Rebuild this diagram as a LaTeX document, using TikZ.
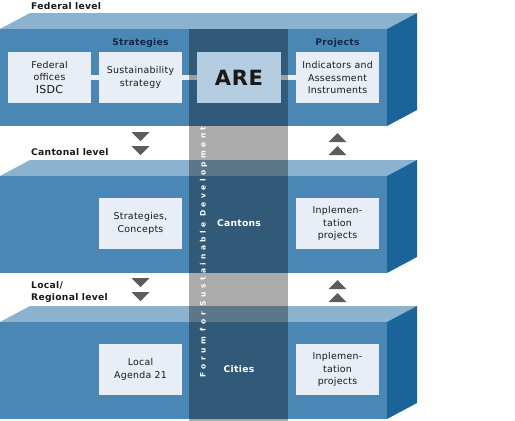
\documentclass[tikz,border=0pt]{standalone}
\usepackage{fontspec}
\setmainfont{DejaVu Sans}
\newfontfamily\spaced{DejaVu Sans}[LetterSpace=3]
\newfontfamily\wide{DejaVu Sans}[LetterSpace=45]
\usetikzlibrary{positioning}

\definecolor{facefront}{HTML}{4A87B4}
\definecolor{facetop}{HTML}{8BB2CF}
\definecolor{faceside}{HTML}{1B6499}
\definecolor{boxlight}{HTML}{E8EEF5}
\definecolor{arelight}{HTML}{B5CDE1}
\definecolor{navy}{HTML}{14284A}
\definecolor{arrowgray}{HTML}{5C5C5C}

\pgfdeclarelayer{bg}
\pgfdeclarelayer{shade}
\pgfsetlayers{bg,shade,main}

\begin{document}
\begin{tikzpicture}[
  x=1pt, y=-1pt,
  inner/.style={fill=boxlight, minimum width=83pt, minimum height=51pt, inner sep=1pt, outer sep=0pt, align=center, text=black!90, font=\spaced\fontsize{9.4}{12.5}\selectfont},
  head/.style={text=navy, font=\spaced\bfseries\fontsize{9.2}{10}\selectfont},
  level/.style={anchor=west, align=left, inner sep=0pt, text=black!90, font=\spaced\bfseries\fontsize{9.2}{12}\selectfont},
  city/.style={text=white, font=\spaced\bfseries\fontsize{9.2}{10}\selectfont},
  bar/.style={line width=5pt, draw=boxlight},
  tri/.style={fill=arrowgray},
]
  \useasboundingbox (0,0) rectangle (515,421);

  % federal level
  \node[inner] (fed) at (49.5,77.5) {Federal\\offices\\{\fontsize{11}{12.5}\selectfont ISDC}};
  \node[inner, right=8pt of fed] (sus) {Sustainability\\strategy};
  \node[inner, fill=arelight, minimum width=84pt, right=15pt of sus] (are) {\fontsize{21}{24}\selectfont\bfseries ARE};
  \node[inner, right=15pt of are] (ind) {Indicators and\\Assessment\\Instruments};

  % cantonal and local level
  \node[inner, below=95pt of sus] (strat) {Strategies,\\Concepts};
  \node[inner, below=95pt of ind] (implcant) {Inplemen-\\tation\\projects};
  \node[inner, below=95pt of strat] (agenda) {Local\\Agenda 21};
  \node[inner, below=95pt of implcant] (impllocal) {Inplemen-\\tation\\projects};

  \node[city] (cantons) at (are |- strat) {Cantons};
  \node[city] (cities) at (are |- agenda) {Cities};

  \node[head] (strathead) at (140.5,43) {Strategies};
  \node[head] (projhead) at (337.5,43) {Projects};

  \node[level] (federal) at (31,6) {Federal level};
  \node[level] (cantonal) at (31,152) {Cantonal level};
  \node[level] (local) at (31,292) {Local/\\Regional level};

  \node[rotate=90, text=white, font=\wide\bfseries\fontsize{7.5}{8}\selectfont] (forum) at (203.5,252) {Forum for Sustainable Development};

  \begin{pgfonlayer}{bg}
    \foreach \y in {29,176,322} {
      \fill[facetop] (0,\y) -- (30,\y-16) -- (417,\y-16) -- (387,\y) -- cycle;
      \fill[facefront] (0,\y) rectangle (387,\y+97);
      \fill[faceside] (387,\y) -- (417,\y-16) -- (417,\y+81) -- (387,\y+97) -- cycle;
    }
    \draw[bar] (fed) -- (sus);
    \draw[bar] (sus) -- (are);
    \draw[bar] (are) -- (ind);
  \end{pgfonlayer}

  \begin{pgfonlayer}{shade}
    \fill[black, fill opacity=0.33] (189,29) rectangle (288,421);
  \end{pgfonlayer}

  % arrows between levels
  \foreach \t in {132,146,278,292}
    \fill[tri] (131.5,\t) -- (149.5,\t) -- (140.5,\t+9) -- cycle;
  \foreach \t in {142,155,289,302}
    \fill[tri] (328.5,\t) -- (346.5,\t) -- (337.5,\t-9) -- cycle;
\end{tikzpicture}
\end{document}
